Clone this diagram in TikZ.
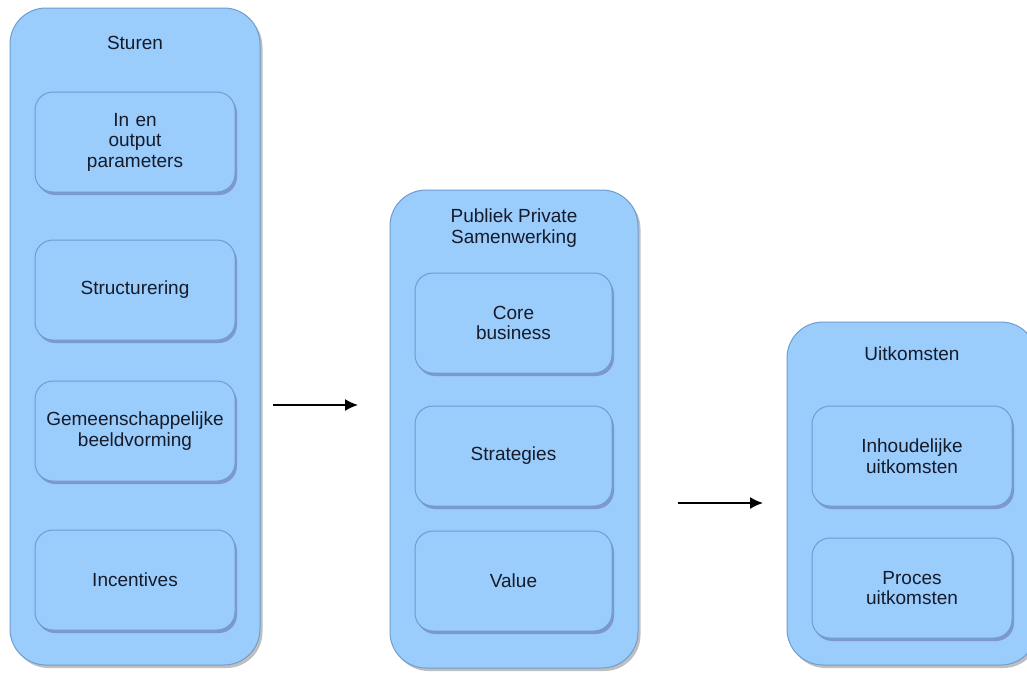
\documentclass[tikz,border=0pt]{standalone}
\usepackage{fontspec}
\setmainfont{Liberation Sans}
\usetikzlibrary{calc, positioning}
\usetikzlibrary{arrows.meta}
\usetikzlibrary{shadows}

\definecolor{boxfill}{HTML}{9ACCFC}
\definecolor{boxline}{HTML}{6E9DCF}
\definecolor{boxtext}{HTML}{161B2A}

\begin{document}
\begin{tikzpicture}[
    x=1pt, y=-1pt,
    every node/.style={font=\fontsize{19}{20.5}\selectfont, text=boxtext, align=center},
    kolom/.style={rectangle, rounded corners=36pt, draw=boxline, fill=boxfill, line width=1pt,
        drop shadow={shadow xshift=2.5pt, shadow yshift=-3pt, opacity=0.5, fill=gray}},
    blok/.style={rectangle, rounded corners=18pt, draw=boxline, fill=boxfill, line width=1pt,
        minimum height=100pt, text width=185pt,
        drop shadow={shadow xshift=2pt, shadow yshift=-3pt, opacity=0.5, fill=gray!80!blue}},
    pijl/.style={-{Latex[length=13pt, width=12pt]}, line width=1.6pt, black}
]
\useasboundingbox (0,0) rectangle (1027,673);

% Sturen
\node[kolom, minimum width=250pt, minimum height=657pt] (sturen) at (135,336.5) {};
\node (sturenT) at (135,43) {Sturen};
\node[blok, minimum width=200pt] (inout) at (135,142) {In en\\output\\parameters};
\node[blok, minimum width=200pt] (struct) at (135,290) {Structurering};
\node[blok, minimum width=200pt] (beeld) at (135,431) {Gemeenschappelijke\\beeldvorming};
\node[blok, minimum width=200pt] (incent) at (135,580) {Incentives};

% Publiek Private Samenwerking
\node[kolom, minimum width=248pt, minimum height=478pt] (pps) at (514,429) {};
\node (ppsT) at (514,228) {Publiek Private\\Samenwerking};
\node[blok, minimum width=197pt] (core) at (513.5,323) {Core\\business};
\node[blok, minimum width=197pt] (strat) at (513.5,456) {Strategies};
\node[blok, minimum width=197pt] (value) at (513.5,581) {Value};

% Uitkomsten
\node[kolom, minimum width=250pt, minimum height=343pt] (uitk) at (912,493.5) {};
\node (uitkT) at (912,354) {Uitkomsten};
\node[blok, minimum width=200pt] (inhoud) at (912,456) {Inhoudelijke\\uitkomsten};
\node[blok, minimum width=200pt] (proces) at (912,588) {Proces\\uitkomsten};

% Pijlen
\coordinate (pijl1a) at (273,405);
\coordinate (pijl1b) at (358,405);
\coordinate (pijl2a) at (678,503);
\coordinate (pijl2b) at (763,503);
\draw[pijl] (pijl1a) -- (pijl1b);
\draw[pijl] (pijl2a) -- (pijl2b);
\end{tikzpicture}
\end{document}
